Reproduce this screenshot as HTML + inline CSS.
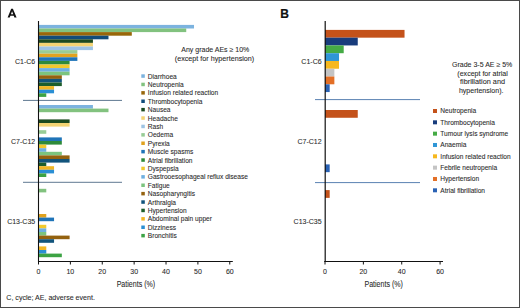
<!DOCTYPE html><html><head><meta charset="utf-8"><style>html,body{margin:0;padding:0;background:#fff}svg{display:block}text{font-family:"Liberation Sans",sans-serif;stroke:#2a2a2a;stroke-width:0.08px}</style></head><body>
<svg width="520" height="308" viewBox="0 0 520 308">
<rect x="0" y="0" width="520" height="308" fill="#fff"/>
<rect x="38.50" y="24.90" width="155.51" height="3.60" fill="#7cb3df"/>
<rect x="38.50" y="28.50" width="147.74" height="3.60" fill="#82c27f"/>
<rect x="38.50" y="32.10" width="93.31" height="3.60" fill="#98670a"/>
<rect x="38.50" y="35.70" width="69.98" height="3.60" fill="#114c7a"/>
<rect x="38.50" y="39.30" width="54.43" height="3.60" fill="#1c4a1f"/>
<rect x="38.50" y="42.90" width="54.43" height="3.60" fill="#f4d473"/>
<rect x="38.50" y="46.50" width="54.43" height="3.60" fill="#9ec4e4"/>
<rect x="38.50" y="50.10" width="38.88" height="3.60" fill="#98cc96"/>
<rect x="38.50" y="53.70" width="38.88" height="3.60" fill="#e0a21f"/>
<rect x="38.50" y="57.30" width="38.88" height="3.60" fill="#1f74b8"/>
<rect x="38.50" y="60.90" width="31.10" height="3.60" fill="#2e8a3a"/>
<rect x="38.50" y="64.50" width="31.10" height="3.60" fill="#f1c92e"/>
<rect x="38.50" y="68.10" width="31.10" height="3.60" fill="#6fb0e0"/>
<rect x="38.50" y="71.70" width="31.10" height="3.60" fill="#7cc47e"/>
<rect x="38.50" y="75.30" width="23.33" height="3.60" fill="#94620f"/>
<rect x="38.50" y="78.90" width="23.33" height="3.60" fill="#12547c"/>
<rect x="38.50" y="82.50" width="23.33" height="3.60" fill="#1d5e2c"/>
<rect x="38.50" y="86.10" width="15.55" height="3.60" fill="#f2b624"/>
<rect x="38.50" y="89.70" width="15.55" height="3.60" fill="#2a8fd4"/>
<rect x="38.50" y="93.30" width="7.78" height="3.60" fill="#3ca344"/>
<rect x="38.50" y="105.00" width="54.43" height="3.60" fill="#7cb3df"/>
<rect x="38.50" y="108.60" width="69.98" height="3.60" fill="#82c27f"/>
<rect x="38.50" y="119.40" width="31.10" height="3.60" fill="#1c4a1f"/>
<rect x="38.50" y="123.00" width="31.10" height="3.60" fill="#f4d473"/>
<rect x="38.50" y="130.20" width="7.78" height="3.60" fill="#98cc96"/>
<rect x="38.50" y="137.40" width="23.33" height="3.60" fill="#1f74b8"/>
<rect x="38.50" y="141.00" width="23.33" height="3.60" fill="#2e8a3a"/>
<rect x="38.50" y="144.60" width="7.78" height="3.60" fill="#f1c92e"/>
<rect x="38.50" y="148.20" width="7.78" height="3.60" fill="#6fb0e0"/>
<rect x="38.50" y="151.80" width="23.33" height="3.60" fill="#7cc47e"/>
<rect x="38.50" y="155.40" width="31.10" height="3.60" fill="#94620f"/>
<rect x="38.50" y="159.00" width="31.10" height="3.60" fill="#12547c"/>
<rect x="38.50" y="162.60" width="7.78" height="3.60" fill="#1d5e2c"/>
<rect x="38.50" y="166.20" width="15.55" height="3.60" fill="#f2b624"/>
<rect x="38.50" y="169.80" width="15.55" height="3.60" fill="#2a8fd4"/>
<rect x="38.50" y="173.40" width="7.78" height="3.60" fill="#3ca344"/>
<rect x="38.50" y="188.80" width="7.78" height="3.60" fill="#82c27f"/>
<rect x="38.50" y="214.00" width="7.78" height="3.60" fill="#e0a21f"/>
<rect x="38.50" y="217.60" width="15.55" height="3.60" fill="#1f74b8"/>
<rect x="38.50" y="224.80" width="7.78" height="3.60" fill="#f1c92e"/>
<rect x="38.50" y="228.40" width="7.78" height="3.60" fill="#6fb0e0"/>
<rect x="38.50" y="232.00" width="7.78" height="3.60" fill="#7cc47e"/>
<rect x="38.50" y="235.60" width="31.10" height="3.60" fill="#94620f"/>
<rect x="38.50" y="239.20" width="15.55" height="3.60" fill="#12547c"/>
<rect x="38.50" y="246.40" width="7.78" height="3.60" fill="#f2b624"/>
<rect x="38.50" y="250.00" width="7.78" height="3.60" fill="#2a8fd4"/>
<rect x="38.50" y="253.60" width="23.33" height="3.60" fill="#3ca344"/>
<rect x="325.00" y="29.90" width="79.53" height="7.77" fill="#c4521a"/>
<rect x="325.00" y="37.67" width="32.75" height="7.77" fill="#183c7c"/>
<rect x="325.00" y="45.44" width="18.71" height="7.77" fill="#45ab45"/>
<rect x="325.00" y="53.21" width="14.03" height="7.77" fill="#2f96d6"/>
<rect x="325.00" y="60.98" width="14.03" height="7.77" fill="#f6b81e"/>
<rect x="325.00" y="68.75" width="9.36" height="7.77" fill="#c4c4c4"/>
<rect x="325.00" y="76.52" width="9.36" height="7.77" fill="#e36f26"/>
<rect x="325.00" y="84.29" width="4.68" height="7.77" fill="#2a62b4"/>
<rect x="325.00" y="110.00" width="32.75" height="7.77" fill="#c4521a"/>
<rect x="325.00" y="164.39" width="4.68" height="7.77" fill="#2a62b4"/>
<rect x="325.00" y="190.10" width="4.68" height="7.77" fill="#c4521a"/>
<line x1="23" y1="100.4" x2="122" y2="100.4" stroke="#5f7891" stroke-width="1"/>
<line x1="23" y1="182.3" x2="122" y2="182.3" stroke="#5f7891" stroke-width="1"/>
<line x1="315" y1="99.6" x2="420" y2="99.6" stroke="#5a82b2" stroke-width="1"/>
<line x1="315" y1="182.6" x2="420" y2="182.6" stroke="#5a82b2" stroke-width="1"/>
<line x1="38.5" y1="21" x2="38.5" y2="262" stroke="#111" stroke-width="1.1"/>
<line x1="38" y1="261.5" x2="232.8" y2="261.5" stroke="#111" stroke-width="1"/>
<line x1="38.50" y1="261" x2="38.50" y2="264.5" stroke="#111" stroke-width="1"/>
<text x="38.50" y="274.2" font-size="7" fill="#2a2a2a" text-anchor="middle">0</text>
<line x1="70.38" y1="261" x2="70.38" y2="264.5" stroke="#111" stroke-width="1"/>
<text x="70.38" y="274.2" font-size="7" fill="#2a2a2a" text-anchor="middle">10</text>
<line x1="102.26" y1="261" x2="102.26" y2="264.5" stroke="#111" stroke-width="1"/>
<text x="102.26" y="274.2" font-size="7" fill="#2a2a2a" text-anchor="middle">20</text>
<line x1="134.14" y1="261" x2="134.14" y2="264.5" stroke="#111" stroke-width="1"/>
<text x="134.14" y="274.2" font-size="7" fill="#2a2a2a" text-anchor="middle">30</text>
<line x1="166.02" y1="261" x2="166.02" y2="264.5" stroke="#111" stroke-width="1"/>
<text x="166.02" y="274.2" font-size="7" fill="#2a2a2a" text-anchor="middle">40</text>
<line x1="197.90" y1="261" x2="197.90" y2="264.5" stroke="#111" stroke-width="1"/>
<text x="197.90" y="274.2" font-size="7" fill="#2a2a2a" text-anchor="middle">50</text>
<line x1="229.78" y1="261" x2="229.78" y2="264.5" stroke="#111" stroke-width="1"/>
<text x="229.78" y="274.2" font-size="7" fill="#2a2a2a" text-anchor="middle">60</text>
<line x1="325.2" y1="21" x2="325.2" y2="262" stroke="#111" stroke-width="1.2"/>
<line x1="324.4" y1="261.5" x2="443" y2="261.5" stroke="#111" stroke-width="1"/>
<line x1="325.00" y1="261" x2="325.00" y2="264.5" stroke="#111" stroke-width="1"/>
<text x="325.00" y="274.2" font-size="7" fill="#2a2a2a" text-anchor="middle">0</text>
<line x1="363.36" y1="261" x2="363.36" y2="264.5" stroke="#111" stroke-width="1"/>
<text x="363.36" y="274.2" font-size="7" fill="#2a2a2a" text-anchor="middle">20</text>
<line x1="401.72" y1="261" x2="401.72" y2="264.5" stroke="#111" stroke-width="1"/>
<text x="401.72" y="274.2" font-size="7" fill="#2a2a2a" text-anchor="middle">40</text>
<line x1="440.08" y1="261" x2="440.08" y2="264.5" stroke="#111" stroke-width="1"/>
<text x="440.08" y="274.2" font-size="7" fill="#2a2a2a" text-anchor="middle">60</text>
<path d="M7.6 17.5 L11.2 8.7 L12.9 8.7 L16.6 17.5 L14.4 17.5 L13.75 15.8 L10.4 15.8 L9.75 17.5 Z M10.95 14.3 L13.2 14.3 L12.07 11.2 Z" fill="#111" fill-rule="evenodd"/>
<text x="280.3" y="17.5" font-size="12" font-weight="bold" fill="#111" style="stroke:#111;stroke-width:0.2px">B</text>
<text x="35.2" y="63.5" font-size="7" fill="#2a2a2a" text-anchor="end">C1-C6</text>
<text x="35.2" y="143.5" font-size="7" fill="#2a2a2a" text-anchor="end">C7-C12</text>
<text x="35.2" y="223.8" font-size="7" fill="#2a2a2a" text-anchor="end">C13-C35</text>
<text x="321.6" y="63.6" font-size="7" fill="#2a2a2a" text-anchor="end">C1-C6</text>
<text x="321.6" y="143.6" font-size="7" fill="#2a2a2a" text-anchor="end">C7-C12</text>
<text x="321.6" y="223.8" font-size="7" fill="#2a2a2a" text-anchor="end">C13-C35</text>
<text x="135.9" y="287.4" font-size="8.6" fill="#2a2a2a" text-anchor="middle" textLength="38.5" lengthAdjust="spacingAndGlyphs">Patients (%)</text>
<text x="383.7" y="287.4" font-size="8.6" fill="#2a2a2a" text-anchor="middle" textLength="38.5" lengthAdjust="spacingAndGlyphs">Patients (%)</text>
<text x="215.3" y="51.8" font-size="7" fill="#2a2a2a" text-anchor="middle">Any grade AEs ≥ 10%</text>
<text x="214.5" y="60.5" font-size="7" fill="#2a2a2a" text-anchor="middle" textLength="79.4" lengthAdjust="spacingAndGlyphs">(except for hypertension)</text>
<text x="482.2" y="67.2" font-size="7" fill="#2a2a2a" text-anchor="middle" textLength="60.3" lengthAdjust="spacingAndGlyphs">Grade 3-5 AE ≥ 5%</text>
<text x="482.6" y="76.3" font-size="7" fill="#2a2a2a" text-anchor="middle" textLength="50.5" lengthAdjust="spacingAndGlyphs">(except for atrial</text>
<text x="482.5" y="84.1" font-size="7" fill="#2a2a2a" text-anchor="middle" textLength="45.0" lengthAdjust="spacingAndGlyphs">fibrillation and</text>
<text x="481.2" y="92.9" font-size="7" fill="#2a2a2a" text-anchor="middle" textLength="44.5" lengthAdjust="spacingAndGlyphs">hypertension).</text>
<rect x="141.3" y="74.30" width="3.5" height="3.5" fill="#7cb3df"/>
<text x="147.8" y="78.50" font-size="6.6" fill="#2a2a2a">Diarrhoea</text>
<rect x="141.3" y="82.70" width="3.5" height="3.5" fill="#82c27f"/>
<text x="147.8" y="86.90" font-size="6.6" fill="#2a2a2a">Neutropenia</text>
<rect x="141.3" y="91.10" width="3.5" height="3.5" fill="#98670a"/>
<text x="147.8" y="95.30" font-size="6.6" fill="#2a2a2a">Infusion related reaction</text>
<rect x="141.3" y="99.50" width="3.5" height="3.5" fill="#114c7a"/>
<text x="147.8" y="103.70" font-size="6.6" fill="#2a2a2a">Thrombocytopenia</text>
<rect x="141.3" y="107.90" width="3.5" height="3.5" fill="#1c4a1f"/>
<text x="147.8" y="112.10" font-size="6.6" fill="#2a2a2a">Nausea</text>
<rect x="141.3" y="116.30" width="3.5" height="3.5" fill="#f4d473"/>
<text x="147.8" y="120.50" font-size="6.6" fill="#2a2a2a">Headache</text>
<rect x="141.3" y="124.70" width="3.5" height="3.5" fill="#9ec4e4"/>
<text x="147.8" y="128.90" font-size="6.6" fill="#2a2a2a">Rash</text>
<rect x="141.3" y="133.10" width="3.5" height="3.5" fill="#98cc96"/>
<text x="147.8" y="137.30" font-size="6.6" fill="#2a2a2a">Oedema</text>
<rect x="141.3" y="141.50" width="3.5" height="3.5" fill="#e0a21f"/>
<text x="147.8" y="145.70" font-size="6.6" fill="#2a2a2a">Pyrexia</text>
<rect x="141.3" y="149.90" width="3.5" height="3.5" fill="#1f74b8"/>
<text x="147.8" y="154.10" font-size="6.6" fill="#2a2a2a">Muscle spasms</text>
<rect x="141.3" y="158.30" width="3.5" height="3.5" fill="#2e8a3a"/>
<text x="147.8" y="162.50" font-size="6.6" fill="#2a2a2a">Atrial fibrillation</text>
<rect x="141.3" y="166.70" width="3.5" height="3.5" fill="#f1c92e"/>
<text x="147.8" y="170.90" font-size="6.6" fill="#2a2a2a">Dyspepsia</text>
<rect x="141.3" y="175.10" width="3.5" height="3.5" fill="#6fb0e0"/>
<text x="147.8" y="179.30" font-size="6.6" fill="#2a2a2a">Gastrooesophageal reflux disease</text>
<rect x="141.3" y="183.50" width="3.5" height="3.5" fill="#7cc47e"/>
<text x="147.8" y="187.70" font-size="6.6" fill="#2a2a2a">Fatigue</text>
<rect x="141.3" y="191.90" width="3.5" height="3.5" fill="#94620f"/>
<text x="147.8" y="196.10" font-size="6.6" fill="#2a2a2a">Nasopharyngitis</text>
<rect x="141.3" y="200.30" width="3.5" height="3.5" fill="#12547c"/>
<text x="147.8" y="204.50" font-size="6.6" fill="#2a2a2a">Arthralgia</text>
<rect x="141.3" y="208.70" width="3.5" height="3.5" fill="#1d5e2c"/>
<text x="147.8" y="212.90" font-size="6.6" fill="#2a2a2a">Hypertension</text>
<rect x="141.3" y="217.10" width="3.5" height="3.5" fill="#f2b624"/>
<text x="147.8" y="221.30" font-size="6.6" fill="#2a2a2a">Abdominal pain upper</text>
<rect x="141.3" y="225.50" width="3.5" height="3.5" fill="#2a8fd4"/>
<text x="147.8" y="229.70" font-size="6.6" fill="#2a2a2a">Dizziness</text>
<rect x="141.3" y="233.90" width="3.5" height="3.5" fill="#3ca344"/>
<text x="147.8" y="238.10" font-size="6.6" fill="#2a2a2a">Bronchitis</text>
<rect x="433" y="109.00" width="4" height="4" fill="#c4521a"/>
<text x="440.3" y="113.30" font-size="6.6" fill="#2a2a2a">Neutropenia</text>
<rect x="433" y="120.33" width="4" height="4" fill="#183c7c"/>
<text x="440.3" y="124.63" font-size="6.6" fill="#2a2a2a">Thrombocytopenia</text>
<rect x="433" y="131.66" width="4" height="4" fill="#45ab45"/>
<text x="440.3" y="135.96" font-size="6.6" fill="#2a2a2a">Tumour lysis syndrome</text>
<rect x="433" y="142.99" width="4" height="4" fill="#2f96d6"/>
<text x="440.3" y="147.29" font-size="6.6" fill="#2a2a2a">Anaemia</text>
<rect x="433" y="154.32" width="4" height="4" fill="#f6b81e"/>
<text x="440.3" y="158.62" font-size="6.6" fill="#2a2a2a">Infusion related reaction</text>
<rect x="433" y="165.65" width="4" height="4" fill="#c4c4c4"/>
<text x="440.3" y="169.95" font-size="6.6" fill="#2a2a2a">Febrile neutropenia</text>
<rect x="433" y="176.98" width="4" height="4" fill="#e36f26"/>
<text x="440.3" y="181.28" font-size="6.6" fill="#2a2a2a">Hypertension</text>
<rect x="433" y="188.31" width="4" height="4" fill="#2a62b4"/>
<text x="440.3" y="192.61" font-size="6.6" fill="#2a2a2a">Atrial fibrillation</text>
<text x="6.3" y="300" font-size="7" fill="#2a2a2a" textLength="88.6" lengthAdjust="spacingAndGlyphs">C, cycle; AE, adverse event.</text>
<rect x="0.5" y="0.5" width="519" height="307" fill="none" stroke="#4a4a4a" stroke-width="1"/>
</svg></body></html>
